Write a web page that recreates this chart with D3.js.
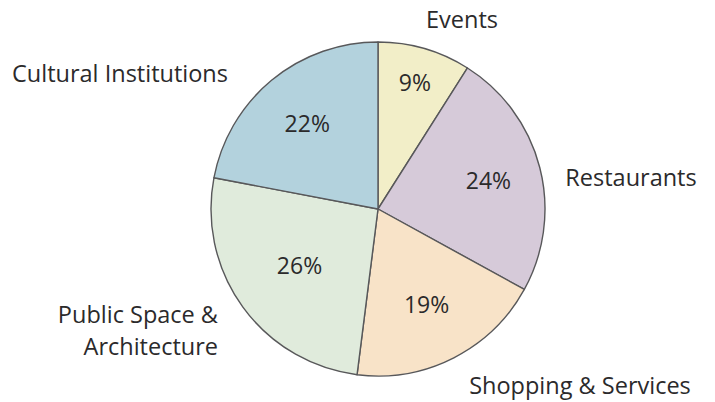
<!DOCTYPE html>
<html>
<head>
<meta charset="utf-8">
<script src="https://cdn.jsdelivr.net/npm/d3@7"></script>
<style>
  html, body { margin: 0; padding: 0; background: #ffffff; }
  svg { display: block; }
  text { font-family: "Open Sans", "Noto Sans", sans-serif; fill: #2b2a2b; }
</style>
</head>
<body>
<svg id="chart" width="715" height="402"></svg>
<script>
// Share of visits by category (percent), clockwise from 12 o'clock
const categories = ["Events", "Restaurants", "Shopping & Services", "Public Space & Architecture", "Cultural Institutions"];
const shares = [9, 24, 19, 26, 22];
const sliceColors = ["#f2eec8", "#d6cad9", "#f8e3c8", "#e0ebdc", "#b3d2dd"];

// Category label lines (multi-line where needed)
const labelLines = [["Events"], ["Restaurants"], ["Shopping & Services"], ["Public Space &", "Architecture"], ["Cultural Institutions"]];

// Layout
const width = 715, height = 402;
const cx = 378, cy = 209, radius = 167;
const pctRadius = [132, 114, 107, 97, 111];
const labelPos = [
  { x: 462, y: 28, anchor: "middle" },
  { x: 631, y: 186, anchor: "middle" },
  { x: 580, y: 394, anchor: "middle" },
  { x: 218, y: 323, anchor: "end" },
  { x: 120, y: 82, anchor: "middle" }
];

const data = categories.map((c, i) => ({ category: c, value: shares[i], color: sliceColors[i], lines: labelLines[i], i }));

const svg = d3.select("#chart");
const g = svg.append("g").attr("transform", `translate(${cx},${cy})`);

const pie = d3.pie().value(d => d.value).sort(null);
const arc = d3.arc().innerRadius(0).outerRadius(radius);
const arcs = pie(data);

g.selectAll("path.slice")
  .data(arcs)
  .join("path")
  .attr("class", "slice")
  .attr("d", arc)
  .attr("fill", d => d.data.color)
  .attr("stroke", "#58585a")
  .attr("stroke-width", 1.4)
  .attr("stroke-linejoin", "round");

// Percent labels inside each slice
g.selectAll("text.pct")
  .data(arcs)
  .join("text")
  .attr("class", "pct")
  .attr("transform", d => {
    const r = pctRadius[d.index];
    const a = (d.startAngle + d.endAngle) / 2;
    return `translate(${Math.sin(a) * r},${-Math.cos(a) * r})`;
  })
  .attr("text-anchor", "middle")
  .attr("dy", "0.36em")
  .style("font-size", "23px")
  .text(d => d.data.value + "%");

// Category labels around the pie
const lab = svg.selectAll("text.cat")
  .data(data)
  .join("text")
  .attr("class", "cat")
  .attr("x", d => labelPos[d.i].x)
  .attr("y", d => labelPos[d.i].y)
  .attr("text-anchor", d => labelPos[d.i].anchor)
  .style("font-size", "23.5px");

lab.selectAll("tspan")
  .data(d => d.lines.map((t, k) => ({ t, k, d })))
  .join("tspan")
  .attr("x", s => labelPos[s.d.i].x)
  .attr("dy", s => s.k === 0 ? 0 : 32)
  .text(s => s.t);
</script>
</body>
</html>
